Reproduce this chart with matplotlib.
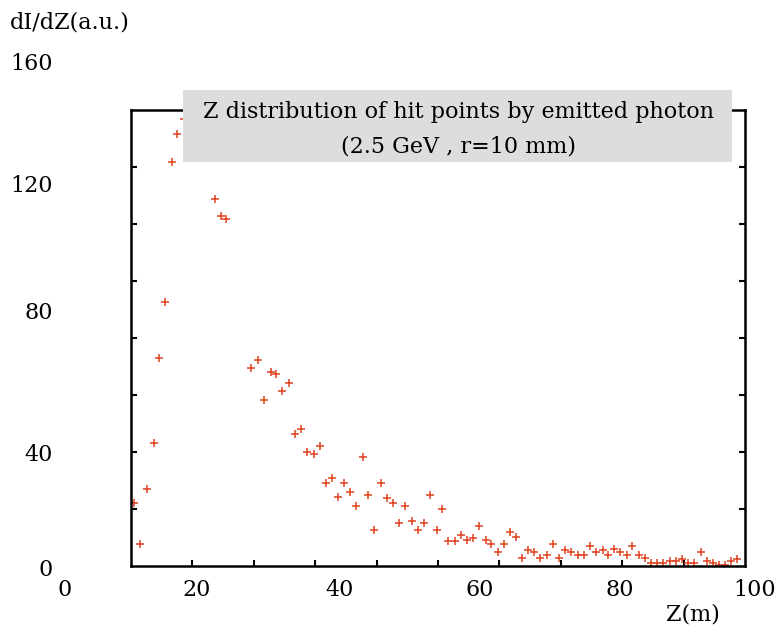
import matplotlib
matplotlib.use("Agg")
import matplotlib.pyplot as plt
from matplotlib.patches import Rectangle
import numpy as np

plt.rcParams['font.family'] = ['DejaVu Serif']

# Data
z_m = [10.61, 11.43, 12.43, 13.39, 14.10, 15.04, 15.96, 16.76, 17.76, 22.14,
       23.00, 23.67, 27.33, 28.24, 29.14, 30.10, 30.86, 31.76, 32.71, 33.61,
       34.39, 35.33, 36.24, 37.14, 37.96, 38.86, 39.76, 40.57, 41.47, 42.33,
       43.24, 44.04, 44.90, 45.86, 46.76, 47.53, 48.47, 49.33, 50.29, 51.10,
       51.96, 52.86, 53.81, 54.53, 55.47, 56.43, 57.33, 58.10, 59.04, 59.90,
       60.81, 61.61, 62.53, 63.43, 64.24, 65.10, 66.00, 66.90, 67.71, 68.61,
       69.53, 70.43, 71.29, 72.19, 73.04, 73.96, 74.81, 75.71, 76.61, 77.53,
       78.33, 79.19, 80.04, 81.00, 81.76, 82.71, 83.61, 84.47, 85.33, 86.19,
       87.14, 88.00, 88.81, 89.71, 90.61, 91.53, 92.39, 93.24, 94.10, 94.96,
       95.86, 96.76]
dIdZ = [20.4, 7.3, 24.8, 39.3, 66.3, 84.1, 128.3, 137.3, 142.0, 116.7,
        111.2, 110.3, 63.0, 65.6, 52.9, 61.8, 61.2, 55.7, 58.4, 42.1,
        43.8, 36.5, 35.8, 38.4, 26.6, 28.3, 22.1, 26.6, 23.8, 19.2,
        34.8, 22.7, 11.8, 26.5, 22.0, 20.3, 14.0, 19.2, 14.7, 11.8,
        14.0, 22.7, 11.8, 18.4, 8.3, 8.3, 10.1, 8.5, 9.3, 12.9,
        8.4, 7.3, 4.8, 7.3, 11.1, 9.4, 2.7, 5.5, 4.8, 2.7,
        3.8, 7.3, 2.7, 5.5, 4.8, 3.8, 3.8, 6.6, 4.8, 5.5,
        3.8, 5.6, 4.8, 3.8, 6.6, 3.8, 2.8, 1.2, 1.2, 1.2,
        2.0, 2.0, 2.6, 1.2, 1.2, 4.8, 2.0, 1.2, 0.7, 0.7,
        2.0, 2.5]

# tick label placement (as pasted in the original scan)
x_tick_pos = [0.6, 19.5, 40.0, 60.0, 79.9, 99.2]
x_tick_labels = ["0", "20", "40", "60", "80", "100"]
y_tick_pos = [0, 36.4, 81.4, 121.7, 160.3]
y_tick_labels = ["0", "40", "80", "120", "160"]

title_line1 = "Z distribution of hit points by emitted photon"
title_line2 = "(2.5 GeV , r=10 mm)"
x_label = "Z(m)"
y_label = "dI/dZ(a.u.)"

FS = 16
W, H = 778, 627
fig = plt.figure(figsize=(W / 100, H / 100), dpi=100)

def fx(px):
    return px / W

def fy(py):
    return (H - py) / H

# Outer (label) axes: 0..100 over px 60..760, 0..160 over px 567..62
outer = fig.add_axes([fx(60), fy(567), fx(760) - fx(60), fy(62) - fy(567)])
outer.set_xlim(0, 100)
outer.set_ylim(0, 160)
for s in outer.spines.values():
    s.set_visible(False)
outer.patch.set_visible(False)
outer.set_xticks(x_tick_pos)
outer.set_xticklabels(x_tick_labels)
outer.set_yticks(y_tick_pos)
outer.set_yticklabels(y_tick_labels)
outer.tick_params(axis='x', length=0, pad=9, labelsize=FS)
outer.tick_params(axis='y', length=0, pad=5, labelsize=FS)

# Inner (data) axes: box from px 131..745, 110..566
xs = lambda px: (px - 60) / 7.0
ys = lambda py: (567 - py) / 3.156
inner = fig.add_axes([fx(131), fy(566), fx(745) - fx(131), fy(110) - fy(566)])
inner.set_xlim(xs(131), xs(745))
inner.set_ylim(ys(566), ys(110))
inner.patch.set_visible(False)
inner.set_xticks(np.linspace(xs(131), xs(745), 11)[1:-1])
inner.set_yticks(np.linspace(ys(566), ys(110), 9)[1:-1])
inner.set_xticklabels([])
inner.set_yticklabels([])
inner.tick_params(direction='in', length=4, width=1.5, top=True, right=True, color='black')
for s in inner.spines.values():
    s.set_linewidth(1.8)
    s.set_color('black')

inner.plot(z_m, dIdZ, linestyle='none', marker='+', markersize=5.5,
           markeredgewidth=1.1, color='#e0431f')

# Title box
rect = Rectangle((fx(183), fy(162)), fx(732) - fx(183), fy(90) - fy(162),
                 transform=fig.transFigure, facecolor='#dddddd',
                 edgecolor='none', zorder=5)
fig.add_artist(rect)
fig.text(fx(458), fy(112), title_line1, ha='center', va='center', fontsize=FS, zorder=6)
fig.text(fx(458), fy(146), title_line2, ha='center', va='center', fontsize=FS, zorder=6)

fig.text(fx(10), fy(22), y_label, ha='left', va='center', fontsize=FS)
fig.text(fx(693), fy(615), x_label, ha='center', va='center', fontsize=FS)

fig.savefig("out.png", dpi=100)
